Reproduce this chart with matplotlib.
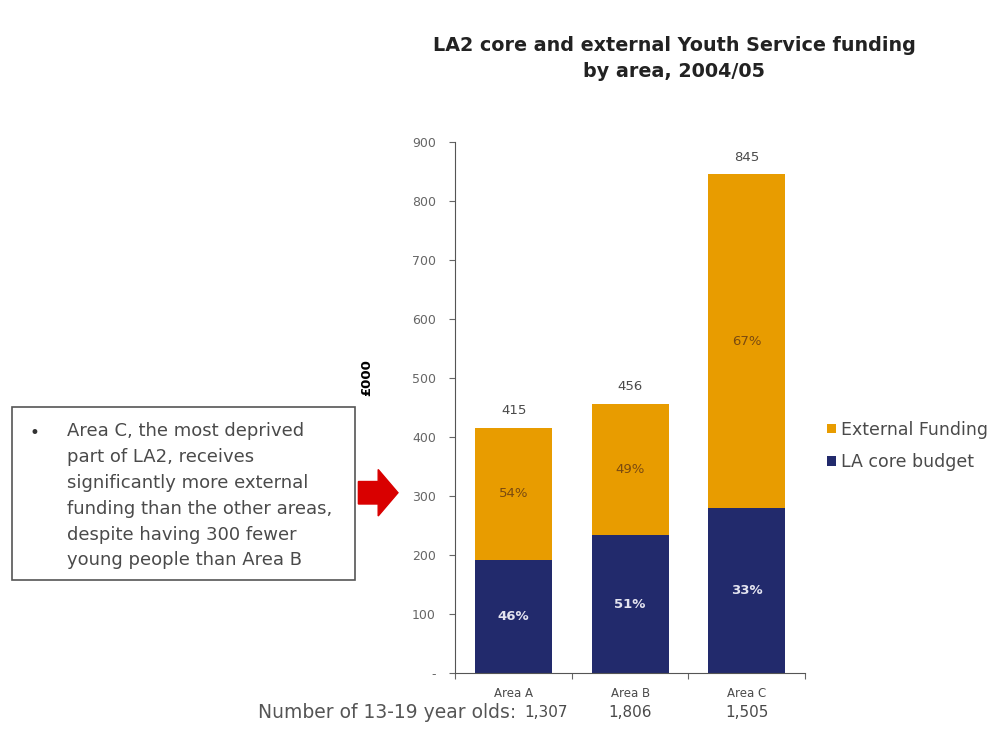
import matplotlib.pyplot as plt
from matplotlib.patches import FancyArrow, Rectangle

plt.rcParams['font.family'] = ['DejaVu Sans']

areas = ['Area A', 'Area B', 'Area C']
core = [191, 233, 279]
external = [224, 223, 566]
totals = [415, 456, 845]
core_pct = ['46%', '51%', '33%']
ext_pct = ['54%', '49%', '67%']
young_people = ['1,307', '1,806', '1,505']

navy = '#222A6C'
orange = '#E89C00'
grey = '#4a4a4a'

fig = plt.figure(figsize=(9.9, 7.5), dpi=100)
ax = fig.add_axes([0.46, 0.103, 0.353, 0.708])

x = list(range(len(areas)))
ax.bar(x, core, width=0.66, color=navy, label='LA core budget')
ax.bar(x, external, width=0.66, bottom=core, color=orange, label='External Funding')

for i in x:
    ax.text(i, core[i] / 2, core_pct[i], ha='center', va='center', color='#e4e4f0', fontsize=9.5, fontweight='bold')
    ax.text(i, core[i] + external[i] / 2, ext_pct[i], ha='center', va='center', color='#7a4a10', fontsize=9.5)
    ax.text(i, totals[i] + 18, str(totals[i]), ha='center', va='bottom', color=grey, fontsize=9.5)

ax.set_xlim(-0.5, 2.5)
ax.set_ylim(0, 900)
ax.set_yticks(range(0, 1000, 100))
ax.set_yticklabels(['-'] + [str(v) for v in range(100, 1000, 100)], fontsize=9, color='#666666')
ax.set_xticks([-0.5, 0.5, 1.5, 2.5])
ax.set_xticklabels([])
ax.set_xticks(x, minor=True)
ax.set_xticklabels(areas, minor=True, fontsize=8.5, color=grey)
ax.tick_params(axis='x', which='minor', length=0, pad=10)
ax.tick_params(axis='x', which='major', length=4, color='#666666')
ax.tick_params(axis='y', length=4, color='#666666', pad=10)
for side in ['top', 'right']:
    ax.spines[side].set_visible(False)
ax.spines['left'].set_color('#555555')
ax.spines['bottom'].set_color('#555555')
ax.set_ylabel('£000', fontsize=9.5, fontweight='bold')
ax.yaxis.set_label_coords(-0.235, 500 / 900)

# population row under the axis
xform = ax.get_xaxis_transform()
ax.text(0.02, -0.075, 'Number of 13-19 year olds:', transform=xform,
        ha='right', va='center', fontsize=13.5, color='#555555')
offsets = [0.28, 0, 0]
for i in x:
    ax.text(i + offsets[i], -0.075, young_people[i], transform=xform,
            ha='center', va='center', fontsize=11, color=grey)

handles, labels = ax.get_legend_handles_labels()
fig.legend(handles[::-1], labels[::-1], loc='upper left', bbox_to_anchor=(0.82, 0.46),
           frameon=False, fontsize=12.5, handlelength=0.5, handleheight=0.5,
           handletextpad=0.3, labelspacing=0.85, labelcolor=grey)

fig.text(0.681, 0.922, 'LA2 core and external Youth Service funding\nby area, 2004/05',
         ha='center', va='center', fontsize=13.8, fontweight='bold', color='#222222',
         linespacing=1.45)

# commentary box and arrow
fig.patches.append(Rectangle((0.012, 0.227), 0.347, 0.23, transform=fig.transFigure,
                             facecolor='white', edgecolor='#555555', linewidth=1.2))
fig.text(0.03, 0.435, '•', fontsize=12, color='#333333', va='top')
fig.text(0.068, 0.437, 'Area C, the most deprived\npart of LA2, receives\nsignificantly more external\n'
         'funding than the other areas,\ndespite having 300 fewer\nyoung people than Area B',
         fontsize=13, color=grey, va='top', linespacing=1.56)
fig.patches.append(FancyArrow(0.362, 0.343, 0.02, 0, width=0.03, head_width=0.062,
                              head_length=0.02, length_includes_head=False,
                              transform=fig.transFigure, color='#D90000'))

fig.savefig('out.png', dpi=100)
